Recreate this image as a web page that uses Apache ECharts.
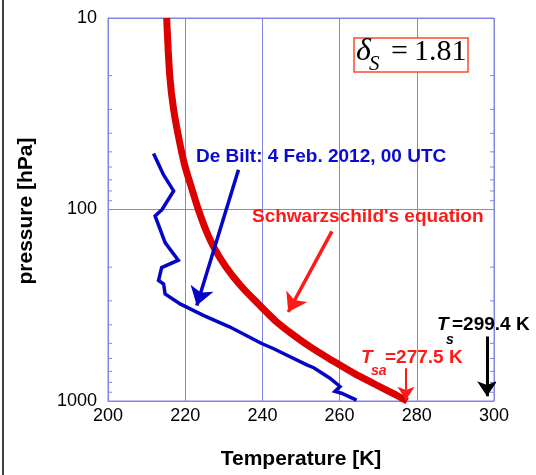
<!DOCTYPE html>
<html>
<head>
<meta charset="utf-8">
<script src="https://cdn.jsdelivr.net/npm/echarts@6/dist/echarts.min.js"></script>
<style>
  html, body { margin: 0; padding: 0; background: #fff; }
  #chart { width: 536px; height: 475px; }
</style>
</head>
<body>
<div id="chart"></div>
<script>
// De Bilt sounding, 4 Feb 2012 00 UTC (temperature K, pressure hPa)
const soundingT = [211.8, 214.4, 217.0, 214.0, 212.2, 214.8, 218.2, 213.9, 213.1, 214.4, 214.8, 218.7,
  224.7, 231.6, 239.8, 242.8, 251.5, 253.3, 257.5, 260.1, 258.8, 260.5, 264.4];
const soundingP = [51, 66, 80, 100, 108, 149, 184, 201, 235, 245, 276, 311,
  357, 411, 501, 532, 648, 670, 760, 840, 891, 911, 990];

// Schwarzschild's equation profile
const schwarzT = [215.2, 216.0, 217.0, 218.6, 220.0, 221.9, 223.4, 225.5, 227.6, 230.6, 234.4, 239.0,
  243.3, 247.9, 252.9, 258.4, 263.9, 269.3, 273.7, 277.5];
const schwarzP = [10, 20, 30, 45, 60, 80, 100, 130, 160, 200, 250, 312,
  380, 450, 530, 620, 720, 820, 910, 1000];

// axis ticks
const xTicks = [200, 220, 240, 260, 280, 300];
const yTicks = [10, 100, 1000];
const minorP = [20, 30, 40, 50, 60, 70, 80, 90, 200, 300, 400, 500, 600, 700, 800, 900];

// annotation arrows [T, p] -> [T, p]
const debiltArrow = [[233.8, 62], [223.0, 317]];
const schwarzArrow = [[258.0, 130], [246.7, 343]];
const tsaArrow = [[277.2, 675], [277.2, 985]];
const tsArrow = [[298.2, 461], [298.2, 944]];

const gridColor = '#8484e4';
const sans = '"Liberation Sans", Arial, Helvetica, sans-serif';
const serif = '"Liberation Serif", "Times New Roman", serif';

const chart = echarts.init(document.getElementById('chart'));

function arrowSeries(coords, color, width, size) {
  return {
    type: 'lines',
    coordinateSystem: 'cartesian2d',
    silent: true,
    symbol: ['none', 'arrow'],
    symbolSize: size,
    lineStyle: { color: color, width: width, opacity: 1, curveness: 0 },
    data: [{ coords: coords }],
    z: 5
  };
}

chart.setOption({
  animation: false,
  backgroundColor: '#fff',
  grid: {
    left: 108, right: 42, top: 18, bottom: 70,
    show: true, borderColor: gridColor, borderWidth: 1, backgroundColor: 'transparent'
  },
  xAxis: {
    type: 'value',
    min: xTicks[0],
    max: xTicks[xTicks.length - 1],
    interval: 20,
    name: 'Temperature [K]',
    nameLocation: 'middle',
    nameGap: 48,
    nameTextStyle: { fontFamily: sans, fontWeight: 'bold', fontSize: 21, color: '#000' },
    axisLine: { lineStyle: { color: gridColor, width: 1 } },
    axisTick: { show: false },
    axisLabel: { fontFamily: sans, fontSize: 18, color: '#000', margin: 6 },
    splitLine: { show: true, lineStyle: { color: gridColor, width: 1 } }
  },
  yAxis: {
    type: 'log',
    logBase: 10,
    min: yTicks[0],
    max: yTicks[yTicks.length - 1],
    inverse: true,
    axisLine: { lineStyle: { color: gridColor, width: 1 } },
    axisTick: { show: false },
    axisLabel: {
      fontFamily: sans, fontSize: 18, color: '#000', margin: 11,
      formatter: v => String(Math.round(v))
    },
    splitLine: { show: true, lineStyle: { color: gridColor, width: 1 } }
  },
  graphic: [
    { type: 'line', shape: { x1: 3, y1: 0, x2: 3, y2: 475 }, style: { stroke: '#000', lineWidth: 1.5 } },
    {
      type: 'text', x: 26, y: 211, rotation: Math.PI / 2,
      style: { text: 'pressure [hPa]', font: 'bold 21px ' + sans, fill: '#000', align: 'center', verticalAlign: 'middle' }
    },
    // delta_S box
    { type: 'rect', shape: { x: 354, y: 38, width: 114, height: 34 }, style: { fill: '#fff', stroke: '#ff4a2a', lineWidth: 1.5 }, z: 10 },
    { type: 'text', x: 356, y: 52, z: 11, style: { text: 'δ', font: 'italic 32px ' + serif, fill: '#000', verticalAlign: 'middle' } },
    { type: 'text', x: 369, y: 64, z: 11, style: { text: 'S', font: 'italic 21px ' + serif, fill: '#000', verticalAlign: 'middle' } },
    { type: 'text', x: 391, y: 52, z: 11, style: { text: '=', font: '30px ' + serif, fill: '#000', verticalAlign: 'middle' } },
    { type: 'text', x: 414, y: 52, z: 11, style: { text: '1.81', font: '30px ' + serif, fill: '#000', verticalAlign: 'middle' } },
    // labels
    { type: 'text', x: 196, y: 157, z: 11, style: { text: 'De Bilt: 4 Feb. 2012, 00 UTC', font: 'bold 19px ' + sans, fill: '#0a0ad2', verticalAlign: 'middle' } },
    { type: 'text', x: 252, y: 217, z: 11, style: { text: "Schwarzschild's equation", font: 'bold 19px ' + sans, fill: '#ff1a1a', verticalAlign: 'middle' } },
    { type: 'text', x: 361, y: 358, z: 11, style: { text: 'T', font: 'italic bold 19px ' + sans, fill: '#ff1a1a', verticalAlign: 'middle' } },
    { type: 'text', x: 371, y: 371, z: 11, style: { text: 'sa', font: 'italic bold 14px ' + sans, fill: '#ff1a1a', verticalAlign: 'middle' } },
    { type: 'text', x: 385, y: 358, z: 11, style: { text: '=277.5 K', font: 'bold 19px ' + sans, fill: '#ff1a1a', verticalAlign: 'middle' } },
    { type: 'text', x: 437, y: 325, z: 11, style: { text: 'T', font: 'italic bold 19px ' + sans, fill: '#000', verticalAlign: 'middle' } },
    { type: 'text', x: 446, y: 340, z: 11, style: { text: 's', font: 'italic bold 14px ' + sans, fill: '#000', verticalAlign: 'middle' } },
    { type: 'text', x: 452, y: 325, z: 11, style: { text: '=299.4 K', font: 'bold 19px ' + sans, fill: '#000', verticalAlign: 'middle' } }
  ],
  series: [
    {
      // log minor ticks on left and right frame
      type: 'custom',
      silent: true,
      clip: false,
      data: minorP.map(p => [xTicks[0], p]),
      renderItem: (params, api) => {
        const p = api.value(1);
        const l = api.coord([xTicks[0], p]);
        const r = api.coord([xTicks[xTicks.length - 1], p]);
        return {
          type: 'group',
          children: [
            { type: 'line', shape: { x1: l[0], y1: l[1], x2: l[0] + 4, y2: l[1] }, style: { stroke: gridColor, lineWidth: 1 } },
            { type: 'line', shape: { x1: r[0], y1: r[1], x2: r[0] - 4, y2: r[1] }, style: { stroke: gridColor, lineWidth: 1 } }
          ]
        };
      }
    },
    {
      name: 'Schwarzschild',
      type: 'line',
      showSymbol: false,
      smooth: 0.3,
      clip: false,
      data: schwarzT.map((t, i) => [t, schwarzP[i]]),
      lineStyle: { color: '#dd0000', width: 7 },
      z: 3
    },
    {
      name: 'De Bilt',
      type: 'line',
      showSymbol: false,
      data: soundingT.map((t, i) => [t, soundingP[i]]),
      lineStyle: { color: '#0505c8', width: 3.5, join: 'miter' },
      z: 4
    },
    arrowSeries(debiltArrow, '#0505c8', 3.5, 18),
    arrowSeries(schwarzArrow, '#ff1a1a', 3.5, 18),
    arrowSeries(tsaArrow, '#ff1a1a', 2, 13),
    arrowSeries(tsArrow, '#000', 3, 15)
  ]
});
</script>
</body>
</html>
